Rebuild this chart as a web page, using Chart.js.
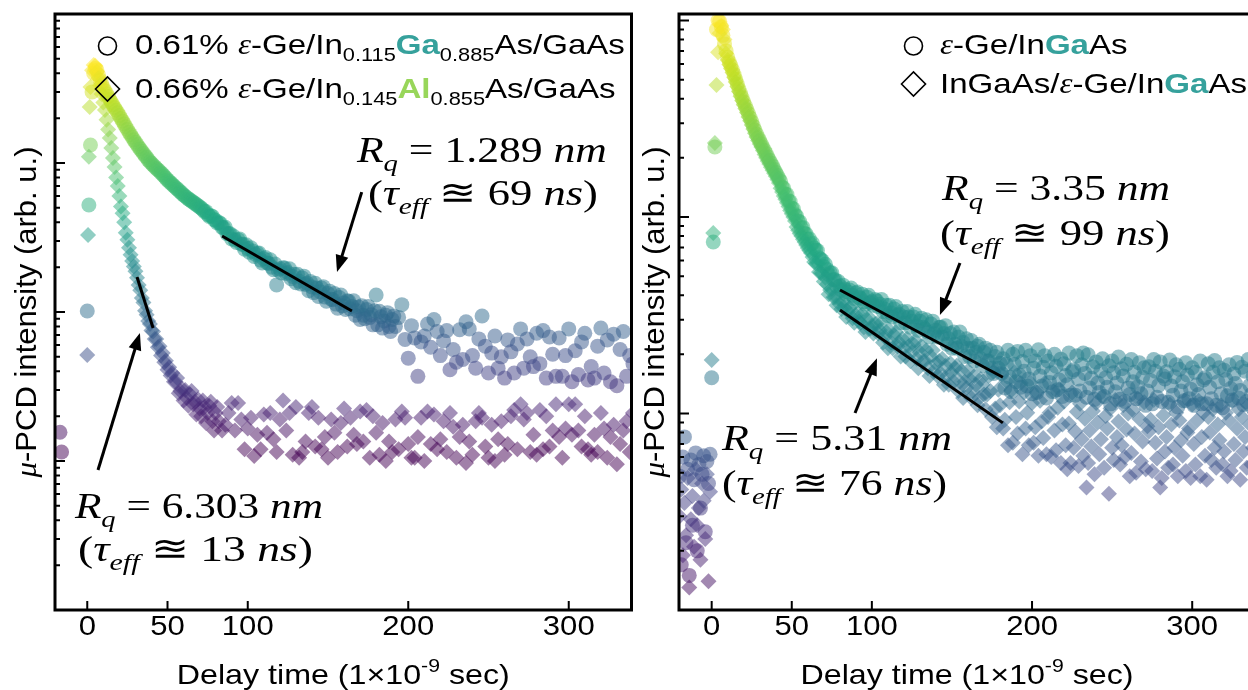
<!DOCTYPE html>
<html>
<head>
<meta charset="utf-8">
<script src="https://cdn.jsdelivr.net/npm/chart.js@4.4.0/dist/chart.umd.min.js"></script>
<style>
html, body { margin: 0; padding: 0; background: #fff; overflow: hidden; }
#wrap { position: relative; width: 1248px; height: 690px; overflow: hidden; }
canvas { position: absolute; top: 0; }
#left { left: 0; }
#right { left: 624px; }
</style>
</head>
<body>
<div id="wrap">
  <canvas id="left" width="640" height="690"></canvas>
  <canvas id="right" width="640" height="690"></canvas>
</div>
<script>
// ---- data (intensity in arbitrary units, time in ns) ----
// decay records start at t = 3 ns, 1 ns apart; the left-panel tails are read every 2 ns
const X_TICKS = [0, 50, 100, 200, 300];

// left panel : 0.61% e-Ge/In0.115Ga0.885As/GaAs (circles)
const leftRingsEarlyT = [-17, -16, 0, 1, 2];
const leftRingsEarly = [156, 115, 1016, 5220, 13200];
const leftRings = [          // t = 3 .. 192 ns, step 1
  30000, 40000, 43000, 42000, 39000, 36100, 34000, 32000, 30500, 29200,
  27900, 26700, 25500, 24500, 23500, 22600, 21700, 20800, 19900, 19100,
  18300, 17500, 16800, 16100, 15500, 14900, 14300, 13800, 13300, 12800,
  12400, 12000, 11600, 11200, 10900, 10500, 10200, 9950, 9700, 9450,
  9200, 9000, 8800, 8580, 8360, 8150, 7920, 7700, 7520, 7350,
  7180, 7010, 6850, 6700, 6550, 6400, 6250, 6100, 5980, 5870,
  5740, 5650, 5550, 5450, 5360, 5260, 5170, 5070, 4980, 4860,
  4720, 4720, 4510, 4380, 4420, 4380, 4170, 4120, 3960, 3980,
  3930, 3700, 3660, 3700, 3360, 3360, 3350, 3090, 3240, 3040,
  2930, 3060, 3090, 2850, 2850, 2640, 2830, 2670, 2520, 2700,
  2570, 2360, 2430, 2480, 2490, 2230, 2130, 2280, 2320, 2140,
  2120, 2240, 2000, 1920, 2100, 1520, 1910, 1950, 1830, 1980,
  1970, 1810, 1840, 1950, 1670, 1730, 1790, 1570, 1790, 1610,
  1540, 1690, 1740, 1530, 1560, 1390, 1600, 1470, 1350, 1560,
  1450, 1270, 1370, 1450, 1480, 1260, 1180, 1330, 1380, 1220,
  1210, 1330, 1130, 1060, 1250, 1300, 1100, 1150, 1040, 1190,
  1180, 1050, 1090, 1190, 950, 1020, 1080, 890, 1100, 950,
  900, 1040, 1090, 920, 960, 820, 1020, 1300, 820, 1010,
  930, 780, 870, 950, 990, 800, 740, 890, 940, 800
];
const leftRingsTail = [      // t = 194 .. 340 ns, step 2
  920, 1120, 655, 490, 810,
  670, 370, 630, 690, 830,
  580, 890, 740, 510, 640,
  750, 410, 560, 460, 760,
  480, 860, 770, 510, 420,
  660, 940, 590, 390, 530,
  690, 420, 500, 360, 650,
  540, 390, 610, 770, 420,
  660, 500, 430, 720, 450,
  750, 360, 680, 520, 370,
  670, 370, 510, 770, 340,
  550, 380, 630, 720, 350,
  430, 360, 590, 780, 390,
  650, 340, 710, 320, 560,
  740, 370, 510, 450
];

// left panel : 0.66% e-Ge/In0.145Al0.855As/GaAs (diamonds)
const leftDiamondsEarlyT = [0, 0.5, 1, 1.5, 2];
const leftDiamondsEarly = [514, 3290, 11000, 23800, 32400];
const leftDiamonds = [       // t = 3 .. 82 ns, step 1
  42000, 45500, 45000, 41000, 37000, 33300, 29000, 25500, 22700, 19500,
  16800, 14700, 12600, 10800, 9400, 8000, 7000, 6000, 5100, 4600,
  4000, 3400, 3050, 2700, 2420, 2200, 2020, 1880, 1700, 1520,
  1400, 1240, 1160, 1020, 960, 870, 830, 750, 740, 660,
  660, 580, 590, 510, 530, 460, 470, 410, 425, 375,
  390, 340, 340, 360, 285, 295, 305, 255, 300, 265,
  235, 280, 295, 240, 250, 205, 260, 225, 200, 255,
  230, 180, 210, 235, 250, 185, 160, 210, 230, 185
];
const leftDiamondsTail = [   // t = 84 .. 340 ns, step 2
  160, 175, 210, 245, 160,
  245, 190, 120, 165, 195,
  108, 150, 120, 205, 155,
  210, 140, 115, 190, 255,
  160, 210, 110, 230, 105,
  115, 135, 210, 230, 125,
  195, 120, 145, 105, 190,
  155, 115, 180, 225, 125,
  195, 150, 130, 215, 135,
  220, 105, 200, 155, 110,
  180, 100, 135, 115, 190,
  120, 215, 195, 130, 105,
  105, 145, 195, 100, 215,
  130, 205, 120, 140, 185,
  115, 210, 170, 105, 145,
  175, 97, 135, 110, 185,
  210, 195, 125, 105, 175,
  100, 140, 185, 110, 130,
  200, 220, 120, 240, 190,
  210, 115, 150, 110, 220,
  120, 200, 125, 160, 240,
  145, 105, 165, 240, 150,
  240, 160, 125, 200, 120,
  110, 150, 115, 210, 165,
  105, 145, 175, 95, 130,
  160, 185, 115, 210
];

// right panel : e-Ge/InGaAs (circles)
const rightRingsEarlyT = [-20, -19, -18, -17, -16, -15, -14, -13, -12, -11, -10, -9, -8, -7, -6, -5, -4, -3, -2, -1, 0, 1, 2];
const rightRingsEarly = [48, 17, 60, 76, 22, 52, 15, 58, 27, 46, 63, 20, 55, 33, 49, 61, 25, 57, 44, 62, 152, 746, 2270];
const rightRings = [         // t = 3 .. 340 ns, step 1
  9000, 10000, 9900, 9300, 8400, 7600, 7000, 6500, 6150, 5880,
  5600, 5300, 5020, 4750, 4480, 4250, 4040, 3850, 3680, 3510,
  3350, 3200, 3050, 2900, 2770, 2640, 2540, 2440, 2350, 2260,
  2180, 2100, 2020, 1950, 1880, 1820, 1750, 1690, 1630, 1570,
  1520, 1420, 1400, 1310, 1300, 1210, 1200, 1110, 1100, 1030,
  1010, 950, 945, 880, 885, 825, 820, 770, 775, 725,
  735, 695, 680, 675, 620, 610, 600, 560, 575, 540,
  510, 520, 520, 480, 480, 445, 470, 445, 425, 450,
  430, 405, 415, 425, 435, 400, 385, 410, 415, 390,
  385, 405, 370, 360, 390, 400, 365, 370, 355, 380,
  375, 350, 360, 380, 330, 340, 355, 315, 355, 325,
  310, 340, 350, 315, 320, 290, 330, 310, 290, 330,
  310, 275, 295, 310, 320, 280, 265, 295, 305, 275,
  270, 300, 260, 245, 285, 295, 255, 265, 245, 275,
  275, 245, 255, 280, 225, 240, 255, 215, 260, 225,
  215, 245, 260, 220, 230, 195, 240, 215, 195, 235,
  215, 185, 205, 220, 225, 190, 175, 205, 215, 185,
  185, 210, 170, 160, 195, 205, 170, 180, 160, 190,
  135, 178, 210, 153, 129, 200, 178, 145, 207, 157,
  136, 184, 164, 210, 138, 150, 197, 126, 170, 185,
  128, 211, 155, 138, 172, 197, 120, 185, 144, 161,
  129, 200, 174, 132, 148, 189, 122, 179, 156, 140,
  203, 124, 163, 167, 124, 197, 150, 130, 177, 203,
  160, 121, 199, 135, 151, 173, 118, 183, 143, 128,
  165, 190, 122, 152, 136, 175, 112, 185, 161, 129,
  143, 194, 118, 169, 155, 115, 178, 135, 125, 188,
  145, 162, 119, 137, 181, 126, 153, 171, 110, 130,
  173, 147, 112, 188, 164, 121, 139, 183, 115, 155,
  150, 163, 114, 187, 138, 124, 154, 177, 108, 168,
  130, 145, 116, 181, 157, 119, 133, 171, 110, 162,
  140, 125, 185, 112, 148, 152, 112, 179, 136, 119,
  162, 186, 110, 145, 171, 126, 107, 166, 149, 123,
  177, 134, 117, 159, 142, 182, 120, 131, 172, 111,
  164, 115, 188, 139, 125, 155, 178, 109
];

// right panel : InGaAs/e-Ge/InGaAs (diamonds)
const rightDiamondsEarlyT = [-20, -19, -18, -17, -16, -15, -14, -13, -12, -11, -10, -9, -8, -7, -6, -5, -4, -3, -2, -1, 0, 1, 2];
const rightDiamondsEarly = [30, 41, 19, 35, 24, 47, 13, 29, 38, 21, 52, 27, 33, 18, 44, 36, 23, 49, 14, 40, 187, 830, 2380];
const rightDiamonds = [      // t = 3 .. 340 ns, step 1
  4700, 6900, 8600, 9400, 9000, 8000, 6800, 6300, 5970, 5700,
  5430, 5140, 4870, 4610, 4350, 4120, 3920, 3730, 3570, 3400,
  3230, 3090, 2940, 2800, 2670, 2550, 2450, 2350, 2270, 2180,
  2080, 2000, 1930, 1860, 1790, 1730, 1670, 1610, 1550, 1490,
  1400, 1340, 1280, 1230, 1180, 1130, 1080, 1040, 1000, 955,
  890, 855, 825, 800, 770, 745, 720, 695, 675, 655,
  625, 590, 580, 580, 525, 520, 515, 470, 490, 455,
  405, 425, 430, 390, 390, 355, 385, 360, 340, 370,
  345, 310, 330, 345, 350, 305, 290, 315, 325, 295,
  290, 320, 275, 260, 300, 310, 270, 280, 255, 285,
  285, 255, 265, 290, 230, 245, 260, 215, 265, 230,
  215, 250, 260, 220, 230, 195, 240, 215, 195, 240,
  220, 185, 205, 225, 235, 190, 170, 205, 220, 185,
  185, 210, 170, 155, 195, 210, 165, 180, 155, 185,
  160, 190, 140, 175, 155, 140, 180, 160, 145, 170,
  175, 130, 145, 165, 120, 145, 135, 165, 150, 120,
  130, 155, 140, 110, 120, 150, 140, 125, 105, 125,
  155, 130, 96, 163, 106, 85, 132, 110, 158, 84,
  93, 146, 69, 114, 131, 71, 162, 96, 79, 115,
  143, 62, 128, 84, 101, 69, 144, 113, 71, 85,
  128, 61, 116, 91, 75, 143, 62, 96, 101, 60,
  130, 82, 65, 107, 133, 56, 88, 115, 69, 52,
  89, 56, 128, 67, 81, 102, 54, 112, 74, 61,
  94, 42, 56, 82, 68, 103, 49, 113, 90, 62,
  74, 122, 53, 97, 84, 39, 106, 67, 58, 117,
  76, 91, 55, 69, 110, 60, 83, 100, 48, 63,
  104, 79, 50, 119, 94, 57, 72, 114, 52, 86,
  81, 93, 51, 117, 71, 59, 85, 42, 47, 98,
  64, 76, 53, 111, 88, 55, 67, 101, 48, 92,
  73, 61, 116, 51, 80, 84, 47, 111, 70, 55,
  92, 116, 48, 76, 101, 61, 46, 96, 80, 58,
  105, 67, 53, 88, 73, 110, 55, 64, 101, 48,
  92, 51, 116, 70, 58, 84, 105, 46, 96, 64,
  76, 53, 110, 88, 55, 67, 101, 48
];

// exponential fits drawn as straight segments [t0, I0, t1, I1]
const leftFits = [[84.0, 3236, 164.9, 1016], [31.0, 1718, 41.0, 781]];
const rightFits = [[80.1, 425, 181.8, 153], [80.1, 336, 181.8, 89.6]];

// ---- drawing helpers ----
const SANS = '"Liberation Sans", Arial, sans-serif';
const SERIF = '"Liberation Serif", "DejaVu Serif", serif';
const STRETCH = 1.15;
const GA_COLOR = '#36a19c';
const AL_COLOR = '#98d65a';

const VIRIDIS = ['#440154', '#482475', '#414487', '#355f8d', '#2a788e', '#21918c',
  '#22a884', '#44bf70', '#7ad151', '#bddf26', '#fde725'];

function hexRgb(h) {
  return [parseInt(h.slice(1, 3), 16), parseInt(h.slice(3, 5), 16), parseInt(h.slice(5, 7), 16)];
}

// colour of a point follows its log intensity
function viridis(t, alpha) {
  t = Math.max(0, Math.min(1, t));
  const p = t * 10;
  const i = Math.min(9, Math.floor(p));
  const f = p - i;
  const a = hexRgb(VIRIDIS[i]), b = hexRgb(VIRIDIS[i + 1]);
  const c = a.map((v, k) => Math.round(v + (b[k] - v) * f));
  return `rgba(${c[0]},${c[1]},${c[2]},${alpha})`;
}

function runFont(r, size) {
  const px = size * (r.sub || r.sup ? 0.66 : 1);
  return (r.it ? 'italic ' : '') + (r.b ? 'bold ' : '') + px + 'px ' + (r.serif ? SERIF : SANS);
}

function runsWidth(ctx, runs, size) {
  let w = 0;
  runs.forEach(r => { ctx.font = runFont(r, size); w += ctx.measureText(r.t).width; });
  return w;
}

// draws a line of rich text; opts: sx (horizontal stretch) or width (fit), align, rotate
function drawRuns(ctx, runs, x, y, size, opts) {
  const w = runsWidth(ctx, runs, size);
  const sx = opts.width ? opts.width / w : (opts.sx || 1);
  ctx.save();
  ctx.translate(x, y);
  if (opts.rotate) ctx.rotate(opts.rotate);
  ctx.scale(sx, 1);
  ctx.textBaseline = opts.baseline || 'alphabetic';
  ctx.textAlign = 'left';
  let cx = opts.align === 'center' ? -w / 2 : 0;
  runs.forEach(r => {
    ctx.font = runFont(r, size);
    ctx.fillStyle = r.c || '#000';
    const dy = r.sub ? 0.24 * size : (r.sup ? -0.42 * size : 0);
    ctx.fillText(r.t, cx, dy);
    cx += ctx.measureText(r.t).width;
  });
  ctx.restore();
}

function rqRuns(val) {
  return [
    { t: 'R', it: true, serif: true },
    { t: 'q', it: true, serif: true, sub: true },
    { t: ' = ', serif: true },
    { t: val, serif: true },
    { t: ' ', serif: true },
    { t: 'nm', it: true, serif: true }
  ];
}

function tauRuns(val) {
  return [
    { t: '(', serif: true },
    { t: 'τ', it: true, serif: true },
    { t: 'eff', it: true, serif: true, sub: true },
    { t: ' ≊ ', serif: true },
    { t: val, serif: true },
    { t: ' ', serif: true },
    { t: 'ns', it: true, serif: true },
    { t: ')', serif: true }
  ];
}

function arrow(ctx, x0, y0, x1, y1) {
  const ang = Math.atan2(y1 - y0, x1 - x0);
  const head = 17, half = 6.5;
  ctx.beginPath();
  ctx.moveTo(x0, y0);
  ctx.lineTo(x1 - Math.cos(ang) * head * 0.8, y1 - Math.sin(ang) * head * 0.8);
  ctx.lineWidth = 3;
  ctx.stroke();
  ctx.beginPath();
  ctx.moveTo(x1, y1);
  ctx.lineTo(x1 - Math.cos(ang) * head - Math.sin(ang) * half, y1 - Math.sin(ang) * head + Math.cos(ang) * half);
  ctx.lineTo(x1 - Math.cos(ang) * head + Math.sin(ang) * half, y1 - Math.sin(ang) * head - Math.cos(ang) * half);
  ctx.closePath();
  ctx.fill();
}

// explicit early points plus evenly sampled segments [start, step, values]
function seriesPoints(earlyT, early, segments) {
  const pts = early.map((v, i) => ({ x: earlyT[i], y: v }));
  segments.forEach(([start, step, values]) => {
    values.forEach((v, i) => pts.push({ x: start + i * step, y: v }));
  });
  return pts;
}

function buildPanel(id, cfg) {
  const ctx = document.getElementById(id).getContext('2d');

  const rings = seriesPoints(cfg.ringsEarlyT, cfg.ringsEarly, cfg.rings);
  const diamonds = seriesPoints(cfg.diamondsEarlyT, cfg.diamondsEarly, cfg.diamonds);
  const colorOf = p => viridis((Math.log10(p.y) - cfg.cLo) / (cfg.cHi - cfg.cLo), 0.5);

  const fitSets = cfg.fits.map(f => ({
    type: 'line',
    data: [{ x: f[0], y: f[1] }, { x: f[2], y: f[3] }],
    borderColor: '#000',
    borderWidth: 3,
    pointRadius: 0,
    order: 0,
    clip: 0
  }));

  // axes, ticks, legend and annotations drawn on top of the data
  const decorations = {
    id: 'decorations',
    afterDatasetsDraw(chart) {
      const c = chart.ctx;
      const a = chart.chartArea;
      const xs = chart.scales.x, ys = chart.scales.y;
      c.save();
      c.strokeStyle = '#000';
      c.fillStyle = '#000';

      // inward ticks
      c.lineWidth = 2;
      c.beginPath();
      X_TICKS.forEach(t => {
        const px = xs.getPixelForValue(t);
        c.moveTo(px, a.bottom);
        c.lineTo(px, a.bottom - 9);
      });
      const d0 = Math.floor(Math.log10(ys.min)), d1 = Math.ceil(Math.log10(ys.max));
      for (let d = d0; d <= d1; d++) {
        for (let k = 1; k <= 9; k++) {
          const v = k * Math.pow(10, d);
          if (v <= ys.min * 1.0001 || v >= ys.max * 0.9999) continue;
          const py = ys.getPixelForValue(v);
          c.moveTo(a.left, py);
          c.lineTo(a.left + (k === 1 ? 10 : 5), py);
        }
      }
      c.stroke();

      // frame
      c.lineWidth = 3;
      c.strokeRect(a.left, a.top, a.right - a.left, a.bottom - a.top);

      // tick labels
      X_TICKS.forEach(t => {
        drawRuns(c, [{ t: String(t) }], xs.getPixelForValue(t), 635, 27, { sx: STRETCH, align: 'center' });
      });

      // axis titles
      drawRuns(c, [{ t: 'Delay time (1×10' }, { t: '-9', sup: true }, { t: ' sec)' }],
        (a.left + a.right) / 2, 684, 28, { sx: STRETCH, align: 'center' });
      drawRuns(c, [{ t: 'μ', it: true, serif: true }, { t: '-PCD intensity (arb. u.)' }],
        cfg.yTitleX, (a.top + a.bottom) / 2, 29,
        { sx: 1.07, align: 'center', rotate: -Math.PI / 2, baseline: 'middle' });

      // legend
      const lg = cfg.legend;
      c.lineWidth = 1.6;
      c.beginPath();
      c.arc(lg.x, lg.y1 - 8, 9, 0, Math.PI * 2);
      c.stroke();
      c.beginPath();
      c.moveTo(lg.x - 12, lg.y2 - 9);
      c.lineTo(lg.x, lg.y2 - 21);
      c.lineTo(lg.x + 12, lg.y2 - 9);
      c.lineTo(lg.x, lg.y2 + 3);
      c.closePath();
      c.stroke();
      drawRuns(c, lg.line1, lg.textX, lg.y1, 28.5, { sx: 1.16 });
      drawRuns(c, lg.line2, lg.textX, lg.y2, 28.5, { sx: 1.16 });

      // arrows
      c.strokeStyle = '#000';
      c.fillStyle = '#000';
      cfg.arrows.forEach(r => {
        arrow(c, xs.getPixelForValue(r[0]), ys.getPixelForValue(r[1]),
          xs.getPixelForValue(r[2]), ys.getPixelForValue(r[3]));
      });

      // roughness / lifetime labels
      cfg.notes.forEach(n => {
        drawRuns(c, n.runs, xs.getPixelForValue(n.x), ys.getPixelForValue(n.y), 36, { width: n.w });
      });
      c.restore();
    }
  };

  new Chart(ctx, {
    type: 'scatter',
    data: {
      datasets: fitSets.concat([
        {
          label: 'diamonds',
          data: diamonds,
          pointStyle: 'rectRot',
          pointRadius: 8,
          pointHoverRadius: 8,
          pointBackgroundColor: diamonds.map(colorOf),
          pointBorderWidth: 0,
          order: 1,
          clip: 0
        },
        {
          label: 'rings',
          data: rings,
          pointStyle: 'circle',
          pointRadius: 7.5,
          pointHoverRadius: 7.5,
          pointBackgroundColor: rings.map(colorOf),
          pointBorderWidth: 0,
          order: 2,
          clip: 0
        }
      ])
    },
    options: {
      responsive: false,
      animation: false,
      devicePixelRatio: 1,
      events: [],
      layout: { padding: cfg.padding },
      plugins: { legend: { display: false }, tooltip: { enabled: false } },
      scales: {
        x: { type: 'linear', min: cfg.xMin, max: cfg.xMax, display: false },
        y: { type: 'logarithmic', min: cfg.yMin, max: cfg.yMax, display: false }
      }
    },
    plugins: [decorations]
  });
}

buildPanel('left', {
  ringsEarlyT: leftRingsEarlyT, ringsEarly: leftRingsEarly,
  rings: [[3, 1, leftRings], [194, 2, leftRingsTail]],
  diamondsEarlyT: leftDiamondsEarlyT, diamondsEarly: leftDiamondsEarly,
  diamonds: [[3, 1, leftDiamonds], [84, 2, leftDiamondsTail]],
  fits: leftFits,
  cLo: 2.1, cHi: 4.65,
  xMin: -20.1, xMax: 339.1, yMin: 10, yMax: 100000,
  padding: { left: 55, right: 8.5, top: 14, bottom: 80 },
  yTitleX: 28,
  legend: {
    x: 107.5, y1: 54, y2: 98, textX: 135,
    line1: [{ t: '0.61% ' }, { t: 'ε', it: true, serif: true }, { t: '-Ge/In' }, { t: '0.115', sub: true },
      { t: 'Ga', b: true, c: GA_COLOR }, { t: '0.885', sub: true }, { t: 'As/GaAs' }],
    line2: [{ t: '0.66% ' }, { t: 'ε', it: true, serif: true }, { t: '-Ge/In' }, { t: '0.145', sub: true },
      { t: 'Al', b: true, c: AL_COLOR }, { t: '0.855', sub: true }, { t: 'As/GaAs' }]
  },
  arrows: [[171.0, 6380, 155.6, 1853], [6.7, 87.1, 32.8, 723]],
  notes: [
    { runs: rqRuns('1.289'), x: 168.0, y: 10160, w: 250 },
    { runs: tauRuns('69'), x: 174.9, y: 5220, w: 230 },
    { runs: rqRuns('6.303'), x: -7.7, y: 41.4, w: 248 },
    { runs: tauRuns('13'), x: -5.8, y: 21.3, w: 235 }
  ]
});

buildPanel('right', {
  ringsEarlyT: rightRingsEarlyT, ringsEarly: rightRingsEarly,
  rings: [[3, 1, rightRings]],
  diamondsEarlyT: rightDiamondsEarlyT, diamondsEarly: rightDiamondsEarly,
  diamonds: [[3, 1, rightDiamonds]],
  fits: rightFits,
  cLo: 1.0, cHi: 4.0,
  xMin: -20.4, xMax: 339.2, yMin: 10, yMax: 10790,
  padding: { left: 55, right: 9, top: 14, bottom: 80 },
  yTitleX: 32,
  legend: {
    x: 289.5, y1: 54, y2: 93, textX: 316,
    line1: [{ t: 'ε', it: true, serif: true }, { t: '-Ge/In' }, { t: 'Ga', b: true, c: GA_COLOR }, { t: 'As' }],
    line2: [{ t: 'InGaAs/' }, { t: 'ε', it: true, serif: true }, { t: '-Ge/In' }, { t: 'Ga', b: true, c: GA_COLOR }, { t: 'As' }]
  },
  arrows: [[155.0, 583, 142.5, 317], [89.5, 100.6, 103.2, 191]],
  notes: [
    { runs: rqRuns('3.35'), x: 143.8, y: 1222, w: 228 },
    { runs: tauRuns('99'), x: 142.5, y: 721, w: 230 },
    { runs: rqRuns('5.31'), x: 6.4, y: 65.2, w: 230 },
    { runs: tauRuns('76'), x: 6.4, y: 38.5, w: 225 }
  ]
});
</script>
</body>
</html>
